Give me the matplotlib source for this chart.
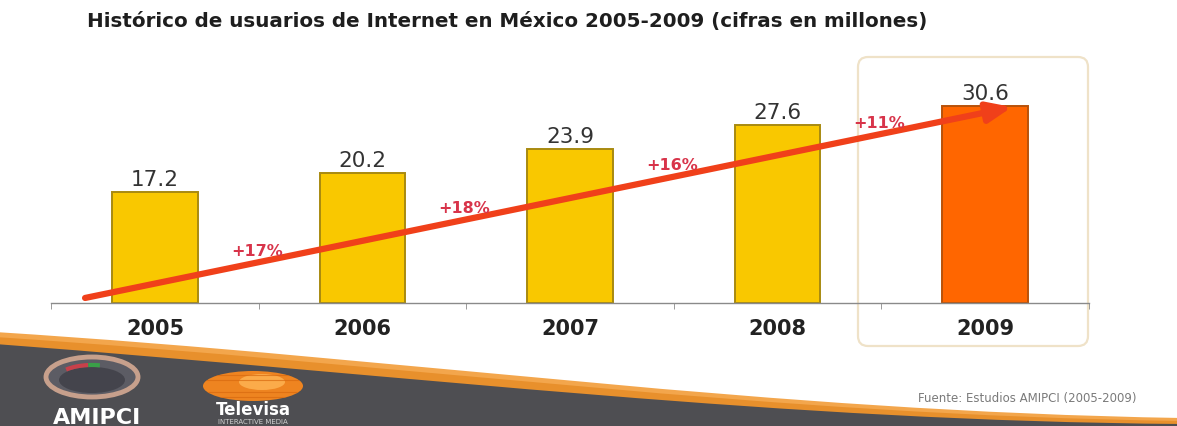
import numpy as np
import matplotlib
matplotlib.use("Agg")
import matplotlib.pyplot as plt
from matplotlib.patches import FancyBboxPatch, Ellipse, Arc, PathPatch
from matplotlib.path import Path

# Internet users in Mexico, millions
years = ["2005", "2006", "2007", "2008", "2009"]
users = [17.2, 20.2, 23.9, 27.6, 30.6]
growth_labels = ["+17%", "+18%", "+16%", "+11%"]
bar_colors = ["#f9c800", "#f9c800", "#f9c800", "#f9c800", "#ff6600"]
edge_colors = ["#a88a10", "#a88a10", "#a88a10", "#a88a10", "#b8520a"]

W, H = 1177, 427
fig = plt.figure(figsize=(W / 100, H / 100), dpi=100)
fig.patch.set_facecolor("white")

# background layer in pixel coordinates (banner, logos, highlight box)
bg = fig.add_axes([0, 0, 1, 1], zorder=0)
bg.set_xlim(0, W)
bg.set_ylim(H, 0)
bg.axis("off")

# rounded box around the last year
box = FancyBboxPatch((858, 58), 230, 289, boxstyle="round,pad=0,rounding_size=10",
                     facecolor="white", edgecolor="#efe2c8", lw=1.6)
bg.add_patch(box)

# orange stripe + dark swoosh at the bottom
def swoosh(top_pts, color):
    (x0, y0), (x1, y1), (x2, y2), (x3, y3) = top_pts
    verts = [(x0, y0), (x1, y1), (x2, y2), (x3, y3), (W + 5, H + 5), (-5, H + 5),
             (x0, y0)]
    codes = [Path.MOVETO, Path.CURVE4, Path.CURVE4, Path.CURVE4,
             Path.LINETO, Path.LINETO, Path.CLOSEPOLY]
    bg.add_patch(PathPatch(Path(verts, codes), facecolor=color, edgecolor="none"))

swoosh([(-5, 333), (420, 360), (760, 412), (W + 5, 419)], "#f3a64c")
swoosh([(-5, 338), (420, 366), (760, 416), (W + 5, 422)], "#e8902c")
swoosh([(-5, 345), (430, 378), (780, 422), (W + 5, 425)], "#4e4e52")

# AMIPCI gauge logo
bg.add_patch(Ellipse((92, 378), 92, 40, facecolor="#5c5c64", edgecolor="#c7a08c", lw=3.5))
bg.add_patch(Ellipse((92, 381), 66, 26, facecolor="#44444c", edgecolor="none"))
bg.add_patch(Arc((92, 380), 70, 28, theta1=200, theta2=255, color="#c8404a", lw=3))
bg.add_patch(Arc((92, 380), 70, 28, theta1=255, theta2=300, color="#3aa048", lw=3))
bg.text(97, 418, "AMIPCI", color="white", fontsize=16, fontweight="bold",
        ha="center", va="center")

# Televisa ball logo
ball = Ellipse((253, 387), 100, 30, facecolor="#ee8420", edgecolor="none")
bg.add_patch(ball)
bg.add_patch(Ellipse((262, 383), 46, 16, facecolor="#ffb555", edgecolor="none", alpha=0.8))
for yy in (376, 381, 393, 398):
    ln, = bg.plot([203, 303], [yy, yy], color="#d86a10", lw=0.8, alpha=0.7)
    ln.set_clip_path(ball)
bg.text(253, 410, "Televisa", color="white", fontsize=12, fontweight="bold",
        ha="center", va="center")
bg.text(253, 422, "INTERACTIVE MEDIA", color="#cfcfcf", fontsize=5,
        ha="center", va="center")

bg.text(1137, 399, "Fuente: Estudios AMIPCI (2005-2009)", color="#7a7a7a",
        fontsize=8.5, ha="right", va="center")

fig.text(87 / W, 1 - 22 / H,
         "Histórico de usuarios de Internet en México 2005-2009 (cifras en millones)",
         fontsize=14.3, fontweight="bold", color="#1e1e1e", ha="left", va="center")

# main chart
x = np.arange(len(years))
ax = fig.add_axes([51.25 / W, (H - 304) / H, 1037.5 / W, 245 / H], zorder=1)
ax.patch.set_alpha(0)
ax.set_xlim(-0.5, 4.5)
ax.set_ylim(0, 38)

bars = ax.bar(x, users, width=0.41, color=bar_colors, edgecolor=edge_colors,
              linewidth=1.4, zorder=2)
ax.bar_label(bars, labels=[f"{v:.1f}" for v in users], padding=2,
             fontsize=15.5, color="#333333")

# trend arrow across the bars
start = (-0.337, 0.78)
end = (4.13, 30.4)
ax.annotate("", xy=end, xytext=start,
            arrowprops=dict(arrowstyle="-|>,head_length=1.2,head_width=0.5",
                            color="#f0401a", lw=4.5, shrinkA=0, shrinkB=0,
                            mutation_scale=12),
            zorder=4)
slope = (end[1] - start[1]) / (end[0] - start[0])
for i, lab in enumerate(growth_labels):
    gx = i + 0.49
    gy = start[1] + slope * (gx - start[0]) + 1.9
    ax.text(gx, gy, lab, color="#d8344a", fontsize=11.5, fontweight="bold",
            ha="center", va="center", zorder=5)

for s in ("top", "right", "left"):
    ax.spines[s].set_visible(False)
ax.spines["bottom"].set_color("#8a8a8a")
ax.spines["bottom"].set_linewidth(1.0)
ax.set_yticks([])
ax.set_xticks(x, labels=years, fontsize=15, fontweight="bold", color="#222222")
ax.tick_params(axis="x", which="major", length=0, pad=11)
ax.set_xticks(np.arange(-0.5, 5, 1), minor=True)
ax.tick_params(axis="x", which="minor", length=4, color="#8a8a8a", direction="out")

fig.savefig("out.png", dpi=100, facecolor="white")
